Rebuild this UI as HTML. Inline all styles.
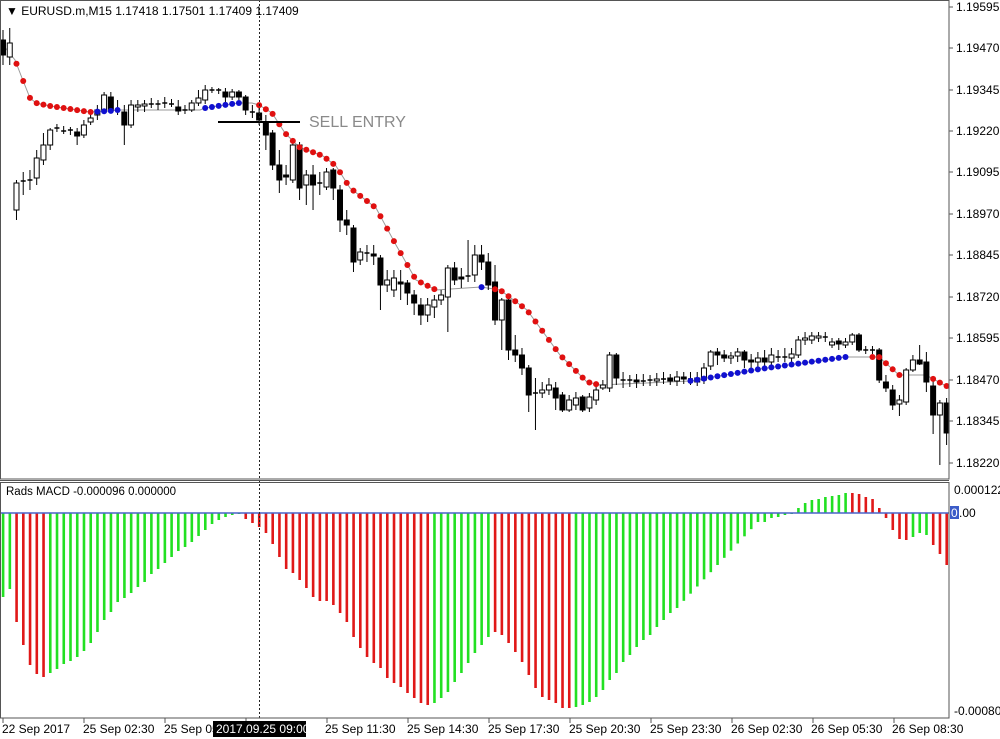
<!DOCTYPE html>
<html><head><meta charset="utf-8"><style>
html,body{margin:0;padding:0;background:#fff;}
svg{display:block;font-family:"Liberation Sans",sans-serif;}
</style></head><body>
<svg id="c" width="1000" height="739" viewBox="0 0 1000 739" xmlns="http://www.w3.org/2000/svg">
<rect x="0" y="0" width="1000" height="739" fill="#fff"/>
<g id="macd"></g>
<line x1="0" y1="513" x2="949" y2="513" stroke="#4a63c8" stroke-width="1.5"/>
<g id="line"></g>
<g id="candles"></g>
<g id="dots"></g>
<line x1="218" y1="122" x2="300" y2="122" stroke="#000" stroke-width="2"/>
<text x="309" y="127" font-size="16" fill="#8a8a8a">SELL ENTRY</text>
<line x1="259.5" y1="0" x2="259.5" y2="718" stroke="#222" stroke-width="1" stroke-dasharray="2,2"/>
<rect x="0.5" y="0.5" width="948.5" height="478.5" fill="none" stroke="#555"/>
<rect x="0.5" y="482.5" width="948.5" height="235.5" fill="none" stroke="#555"/>
<line x1="0" y1="480.5" x2="949" y2="480.5" stroke="#555"/>
<text x="6" y="15" font-size="12" fill="#000">▼ EURUSD.m,M15  1.17418 1.17501 1.17409 1.17409</text>
<text x="6" y="495" font-size="11.5" fill="#000">Rads MACD -0.000096 0.000000</text>
<g font-size="12" fill="#000">
<text x="956" y="11">1.19595</text><text x="956" y="52">1.19470</text><text x="956" y="94">1.19345</text>
<text x="956" y="135">1.19220</text><text x="956" y="176">1.19095</text><text x="956" y="218">1.18970</text>
<text x="956" y="259">1.18845</text><text x="956" y="301">1.18720</text><text x="956" y="342">1.18595</text>
<text x="956" y="384">1.18470</text><text x="956" y="425">1.18345</text><text x="956" y="467">1.18220</text>
<text x="954" y="494">0.000122</text>
<rect x="950" y="506" width="9" height="13" fill="#3c5cc8"/>
<text x="951" y="517" fill="#fff">0</text><text x="959" y="517">.00</text>
<text x="954" y="715">-0.000804</text>
</g>
<g id="ticks" stroke="#555"></g>
<g font-size="12" fill="#000">
<text x="2" y="733">22 Sep 2017</text>
<text x="83" y="733">25 Sep 02:30</text>
<text x="164" y="733">25 Sep 05:30</text>
<rect x="213" y="721" width="93" height="16" fill="#000"/>
<text x="216" y="733" fill="#fff">2017.09.25 09:00</text>
<text x="325" y="733">25 Sep 11:30</text>
<text x="407" y="733">25 Sep 14:30</text>
<text x="488" y="733">25 Sep 17:30</text>
<text x="569" y="733">25 Sep 20:30</text>
<text x="650" y="733">25 Sep 23:30</text>
<text x="731" y="733">26 Sep 02:30</text>
<text x="811" y="733">26 Sep 05:30</text>
<text x="892" y="733">26 Sep 08:30</text>
</g>
</svg>
<script>
var NS="http://www.w3.org/2000/svg";
function el(p,t,a){var e=document.createElementNS(NS,t);for(var k in a)e.setAttribute(k,a[k]);document.getElementById(p).appendChild(e);return e;}
function X(i){return 3+6.74*i;}
[3,84,165,246,327,408,489,570,651,732,813,894].forEach(function(x){el("ticks","line",{x1:x,y1:718,x2:x,y2:723});});
[7,48,90,131,172,214,255,297,338,380,421,463].forEach(function(y){el("ticks","line",{x1:949,y1:y,x2:953,y2:y});});
var h=[84,76,109,132,152,161,164,160,156,151,148,144,138,130,119,107,99,89,85,80,74,69,61,56,50,44,38,34,29,23,17,11,7,4,2,1,
6,10,14,20,31,44,56,60,67,75,84,88,88,
92,100,109,124,135,144,150,155,165,170,174,180,185,190,192,
190,185,179,169,160,150,140,132,124,
119,122,130,139,149,162,175,184,187,190,195,195,
194,192,189,184,177,167,160,149,142,134,127,122,114,107,100];
for(var k=0;k<13;k++)h.push(95-86*k/12);
h=h.concat([9,5,4,2,0.5,-5,-10,-13,-14,-16,-17,-18,-20,-20,-19,-16,-14,-5,5,17,26,27,24,20,22,32,41,52]);
function col(i){
 if(i<=1)return"g";if(i<=6)return"r";if(i<=35)return"g";if(i<=63)return"r";if(i<=72)return"g";if(i<=84)return"r";
 if(i<=125)return"g";if(i<=134)return"r";if(i<=137)return"g";return"r";}
for(var i=0;i<h.length&&i<141;i++){
 var v=h[i],y1=513,y2=513+v;
 el("macd","rect",{x:X(i)-1.2,y:Math.min(y1,y2),width:2.6,height:Math.max(1,Math.abs(v)),fill:col(i)=="g"?"#22e022":"#e01818"});
}
var C=[[40,55,30,65],[57,43,28,65],[210,183,180,220],[181,182,172,195],[180,181,170,190],[178,158,150,185],[160,145,133,165],[145,130,128,150],[128,129,124,132],[131,130,126,134],
[130,131,127,135],[132,136,128,145],[135,125,120,138],[122,118,112,125],[115,110,105,120],[110,95,92,112],[97,110,92,112],[110,111,100,115],[112,125,105,145],[125,105,100,128],
[107,105,100,112],[106,104,100,112],[104,103,98,108],[104,104,100,110],[103,102,97,108],[104,104,99,107],[107,111,100,115],[110,109,105,114],[110,103,100,112],[103,98,90,106],
[100,90,85,104],[90,90,87,93],[90,91,88,94],[92,97,88,102],[97,92,89,100],[92,97,90,100],[97,110,95,115],[112,113,105,118],[113,120,108,125],[123,135,115,150],
[133,165,130,170],[165,180,150,193],[175,177,165,185],[180,145,142,183],[145,188,142,200],[185,175,170,205],[175,185,165,210],[183,184,172,195],[187,172,168,190],[170,188,168,200],
[190,220,185,232],[220,225,210,235],[228,262,225,272],[260,252,248,265],[253,254,245,262],[254,256,245,265],[258,285,255,310],[285,280,270,292],[290,278,270,297],[282,284,270,300],
[283,293,280,305],[295,303,290,315],[305,315,298,325],[315,305,298,322],[307,300,295,318],[300,295,290,305],[297,268,265,332],[268,280,262,285],[277,279,268,288],[276,276,240,282],
[275,255,245,282],[255,262,245,270],[262,285,253,290],[282,320,265,325],[320,300,298,350],[300,350,298,360],[350,355,335,362],[355,368,348,375],[368,395,365,412],[393,394,378,430],
[393,390,382,398],[390,385,378,395],[388,398,382,410],[395,410,392,412],[410,400,395,412],[405,398,392,410],[397,410,395,412],[408,397,393,412],[400,390,385,405],[388,385,380,390],
[388,355,352,392],[355,378,353,385],[380,381,372,388],[380,381,375,387],[380,382,374,388],[381,380,374,386],[380,381,375,386],
[381,379,373,386],[379,378,372,384],[378,381,374,385],[381,377,371,386],[377,379,372,384],[379,378,372,385],[378,382,372,386],[380,368,363,384],[366,352,350,370],[352,355,348,365],
[355,358,350,362],[358,356,352,364],[356,352,348,362],[352,360,350,368],[360,362,354,370],[362,358,352,368],[358,362,350,368],[362,355,348,366],[357,357,350,362],[357,357,348,362],
[358,354,348,362],[355,340,336,358],[340,338,332,345],[340,336,332,344],[338,336,332,342],[337,338,332,342],[345,342,338,348],[341,344,338,350],[345,342,338,348],[342,335,333,345],
[335,350,333,352],[350,351,346,354],[350,351,346,354],[350,380,348,383],[382,388,375,392],[390,405,385,410],[404,400,395,416],[402,370,368,405],[370,360,355,372],[360,364,345,365],
[362,382,352,392],[386,415,380,434],[415,403,400,465],[403,433,398,445]];
C.forEach(function(c,i){
 var x=X(i);
 el("candles","line",{x1:x,y1:c[2],x2:x,y2:c[3],stroke:"#000","stroke-width":1});
 var top=Math.min(c[0],c[1]),bh=Math.abs(c[0]-c[1]);
 if(bh<1.5){el("candles","line",{x1:x-2.5,y1:c[0],x2:x+2.5,y2:c[0],stroke:"#000","stroke-width":1.5});}
 else{var up=c[1]<c[0];el("candles","rect",{x:x-2.5,y:top,width:5,height:bh,fill:up?"#fff":"#000",stroke:"#000","stroke-width":1});}
});
var P=[[3,45],[15,60],[22,78],[30,98],[36,103],[50,106],[90,112],[110,111],[117,110],[200,110],[205,108],[238,103],[252,103],[259,105],[272,113],[285,133],[299,147],[323,156],[336,166],[350,188],[376,208],[396,245],[416,280],[436,290],[481,287],[500,290],[527,310],[560,355],[587,382],[600,385],[690,381],[760,369],[845,357],[865,357],[879,357],[899,375],[926,375],[946,386]];
el("line","polyline",{points:P.map(function(p){return p.join(",");}).join(" "),fill:"none",stroke:"#999","stroke-width":1});
function Y(x){for(var k=0;k<P.length-1;k++){if(x>=P[k][0]&&x<=P[k+1][0]){var t=(x-P[k][0])/(P[k+1][0]-P[k][0]);return P[k][1]+t*(P[k+1][1]-P[k][1]);}}return P[P.length-1][1];}
var R=[[13,92,"#e01010"],[96,118,"#1010d0"],[203,240,"#1010d0"],[256,438,"#e01010"],[478,484,"#1010d0"],[492,602,"#e01010"],[690,847,"#1010d0"],[868,901,"#e01010"],[930,950,"#e01010"]];
for(var i=0;i<141;i++){var x=X(i);R.forEach(function(r){if(x>=r[0]&&x<=r[1])el("dots","circle",{cx:x,cy:Y(x),r:3,fill:r[2]});});}
</script>
</body></html>
